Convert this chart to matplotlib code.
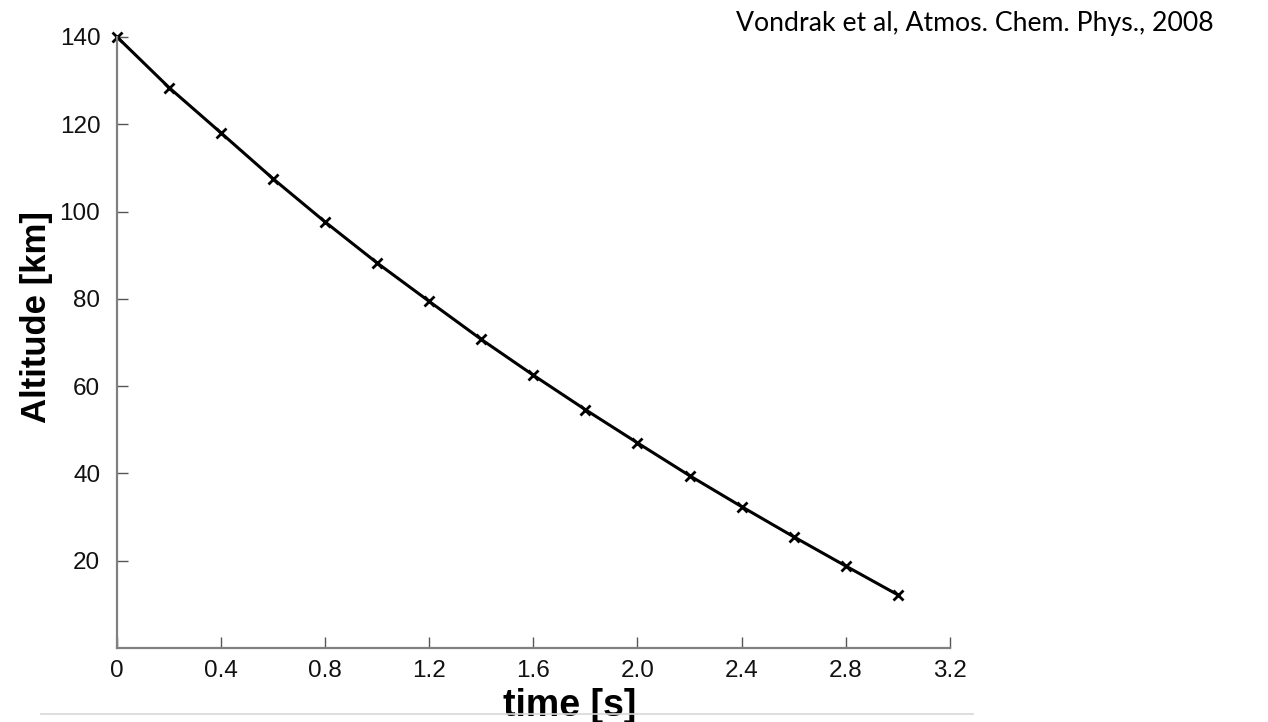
import numpy as np
import matplotlib
matplotlib.use('Agg')
import matplotlib.pyplot as plt
from matplotlib.lines import Line2D

# 数据：时间 (s) 与高度 (km)
time_s = [0.0, 0.2, 0.4, 0.6, 0.8, 1.0, 1.2, 1.4, 1.6, 1.8, 2.0, 2.2, 2.4, 2.6, 2.8, 3.0]
altitude_km = [140.0, 128.4, 118.0, 107.5, 97.6, 88.2, 79.4, 70.7, 62.5, 54.6,
               47.0, 39.5, 32.4, 25.5, 18.8, 12.2]

x_ticks = [0, 0.4, 0.8, 1.2, 1.6, 2.0, 2.4, 2.8, 3.2]
x_tick_labels = ['0', '0.4', '0.8', '1.2', '1.6', '2.0', '2.4', '2.8', '3.2']
y_ticks = [20, 40, 60, 80, 100, 120, 140]

source_text = 'Vondrak et al, Atmos. Chem. Phys., 2008'

plt.rcParams['font.family'] = ['Liberation Sans', 'DejaVu Sans']

fig = plt.figure(figsize=(12.68, 7.22), dpi=100)
ax = fig.add_axes([0.0923, 0.1025, 0.6567, 0.8463])

ax.plot(time_s, altitude_km, color='black', linewidth=2.2,
        marker='x', markersize=7.5, markeredgewidth=2.0, clip_on=False)

ax.set_xlim(0, 3.2)
ax.set_ylim(0, 140)
ax.set_xticks(x_ticks)
ax.set_xticklabels(x_tick_labels)
ax.set_yticks(y_ticks)

for side in ['top', 'right']:
    ax.spines[side].set_visible(False)
for side in ['left', 'bottom']:
    ax.spines[side].set_color('#808080')
    ax.spines[side].set_linewidth(1.6)

ax.tick_params(axis='both', direction='in', length=8, width=1.0, color='#555555',
               labelsize=17.5, labelcolor='#111111')
ax.tick_params(axis='x', pad=9)
ax.tick_params(axis='y', pad=12)

ax.set_xlabel('time [s]', fontsize=27, fontweight='bold')
ax.set_ylabel('Altitude [km]', fontsize=25, fontweight='bold')
ax.xaxis.set_label_coords(0.544, -0.066)
ax.yaxis.set_label_coords(-0.077, 0.542)

fig.text(0.957, 0.967, source_text, fontsize=19.2, family=['Lato', 'DejaVu Sans'],
         ha='right', va='center')

# 底部浅灰色分隔线
fig.add_artist(Line2D([0.032, 0.767], [0.011, 0.011], color='#d8d8d8', linewidth=1.2))

plt.savefig('out.png', dpi=100)
plt.close()
